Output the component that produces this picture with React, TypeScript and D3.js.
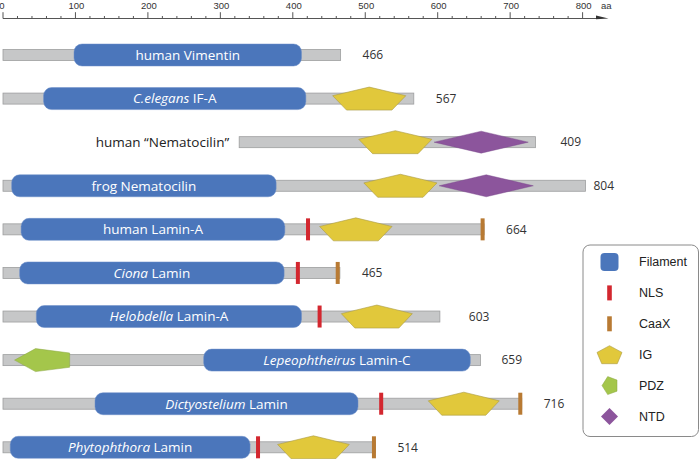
import React from "react";
import * as d3 from "d3";

// ---- data (amino-acid units) ----
const italicNames = ["", "C.elegans", "", "", "", "Ciona", "Helobdella", "Lepeophtheirus", "Dictyostelium", "Phytophthora"];
const plainNames = ["human Vimentin", " IF-A", "human \u201CNematocilin\u201D", "frog Nematocilin", "human Lamin-A", " Lamin", " Lamin-A", " Lamin-C", " Lamin", " Lamin"];
const lengths = [466, 567, 409, 804, 664, 465, 603, 659, 716, 514];
const starts = [0, 0, 326, 0, 0, 0, 0, 0, 0, 0];
const filament: ([number, number] | null)[] = [[98, 412], [56, 418], null, [12, 377], [25, 389], [23, 388], [46, 412], [277, 645], [127, 490], [10, 341]];
const nls: (number | null)[] = [null, null, null, null, 421, 407, 437, null, 522, 352];
const caax: (number | null)[] = [null, null, null, null, 662, 462, null, null, 714, 512];
const ig: ([number, number] | null)[] = [null, [455, 556], [491, 592], [498, 599], [437, 537], null, [467, 565], null, [587, 685], [379, 478]];
const pdz: ([number, number] | null)[] = [null, null, null, null, null, null, null, [16, 92], null, null];
const ntd: ([number, number] | null)[] = [null, null, [595, 725], [602, 732], null, null, null, null, null, null];
const axisTicks = [0, 100, 200, 300, 400, 500, 600, 700, 800];
const legendLabels = ["Filament", "NLS", "CaaX", "IG", "PDZ", "NTD"];

const BLUE = "#4b76bb";
const GREY = "#c6c7c8";
const YELLOW = "#e1c83b";
const PURPLE = "#8c559c";
const GREEN = "#a4c64b";
const RED = "#d3272f";
const BROWN = "#b87a33";

const labelGaps = [22, 22, 25, 8, 22, 22, 29, 21, 22, 22];

function pentagonUp(x0: number, x1: number, cy: number, h: number) {
  const w = x1 - x0;
  const top = cy - h / 2;
  return [
    [x0 + w / 2, top],
    [x1, top + 0.375 * h],
    [x0 + 0.81 * w, top + h],
    [x0 + 0.19 * w, top + h],
    [x0, top + 0.375 * h],
  ].map((p) => p.join(",")).join(" ");
}
function pentagonLeft(x0: number, x1: number, cy: number, h: number) {
  const w = x1 - x0;
  const top = cy - h / 2;
  return [
    [x0, cy],
    [x0 + 0.38 * w, top],
    [x1, top + 0.19 * h],
    [x1, top + 0.81 * h],
    [x0 + 0.38 * w, top + h],
  ].map((p) => p.join(",")).join(" ");
}
function diamond(x0: number, x1: number, cy: number, h: number) {
  const cx = (x0 + x1) / 2;
  return [[x0, cy], [cx, cy - h / 2], [x1, cy], [cx, cy + h / 2]].map((p) => p.join(",")).join(" ");
}

export default function App() {
  const x = d3.scaleLinear().domain([0, 800]).range([3, 582.6]);
  const rows = d3.range(lengths.length);
  const y = d3.scalePoint<number>().domain(rows).range([55, 447.3]);
  const minor = d3.range(0, 801, 20);
  const axisY = 18.5;
  const nameFont = "'Open Sans', sans-serif";
  const legendY = d3.scalePoint<number>().domain(d3.range(6)).range([262, 416.5]);

  return (
    <svg width={700} height={459} style={{ position: "absolute", left: 0, top: 0, background: "#fff" }}>
      {/* axis */}
      <g>
        <line x1={x(0)} x2={598} y1={axisY} y2={axisY} stroke="#555" strokeWidth={1} />
        <polygon points={`596,15.6 608.5,${axisY} 596,${axisY + 0.8}`} fill="#333" />
        {minor.map((t) => (
          <line key={t} x1={x(t)} x2={x(t)} y1={t % 100 === 0 ? 12.2 : 16} y2={axisY} stroke="#555" strokeWidth={1} />
        ))}
        {axisTicks.map((t) => (
          <text key={t} x={x(t) + (t === 0 ? -1 : 1)} y={9} fontSize={9.5} fontFamily="'Liberation Sans', Arial, sans-serif" fill="#333" textAnchor="middle">
            {t}
          </text>
        ))}
        <text x={601} y={8.5} fontSize={9.5} fontFamily="'Liberation Sans', Arial, sans-serif" fill="#333">aa</text>
      </g>

      {rows.map((i) => {
        const cy = y(i)!;
        const s = starts[i];
        const e = s + lengths[i];
        const f = filament[i];
        return (
          <g key={i}>
            <rect x={x(s)} y={cy - 5.5} width={x(e) - x(s)} height={11} fill={GREY} stroke="#9d9e9f" strokeWidth={0.8} />
            {f && (
              <rect x={x(f[0])} y={cy - 11} width={x(f[1]) - x(f[0])} height={22} rx={8} ry={8} fill={BLUE} stroke="#6d8fc8" strokeWidth={0.5} />
            )}
            {ig[i] && <polygon points={pentagonUp(x(ig[i]![0]), x(ig[i]![1]), cy, 23)} fill={YELLOW} stroke="#a99a45" strokeWidth={0.6} />}
            {ntd[i] && <polygon points={diamond(x(ntd[i]![0]), x(ntd[i]![1]), cy, 22)} fill={PURPLE} stroke="#7a4a8a" strokeWidth={0.4} />}
            {pdz[i] && <polygon points={pentagonLeft(x(pdz[i]![0]), x(pdz[i]![1]), cy, 23)} fill={GREEN} stroke="#8aa642" strokeWidth={0.5} />}
            {nls[i] != null && <rect x={x(nls[i]!) - 2} y={cy - 11} width={4} height={22} fill={RED} />}
            {caax[i] != null && <rect x={x(caax[i]!) - 2} y={cy - 11} width={4} height={22} fill={BROWN} />}
            {f ? (
              <text x={(x(f[0]) + x(f[1])) / 2} y={cy} dy="0.36em" textAnchor="middle" fontSize={13.5} fontFamily={nameFont} fill="#fff">
                {italicNames[i] && <tspan fontStyle="italic">{italicNames[i]}</tspan>}
                {plainNames[i]}
              </text>
            ) : (
              <text x={x(s) - 10} y={cy} dy="0.36em" textAnchor="end" fontSize={13.5} fontFamily={nameFont} fill="#222">
                {plainNames[i]}
              </text>
            )}
            <text x={x(e) + labelGaps[i]} y={cy} dy="0.36em" fontSize={12} fontFamily={nameFont} fill="#333">
              {lengths[i]}
            </text>
          </g>
        );
      })}

      {/* legend */}
      <g>
        <rect x={583} y={245} width={115.5} height={191.5} rx={7} ry={7} fill="#fff" stroke="#8a8a8a" strokeWidth={1} />
        {legendLabels.map((lab, k) => {
          const cy = legendY(k)!;
          const cx = 609.5;
          let icon: React.ReactNode = null;
          if (k === 0) icon = <rect x={cx - 9} y={cy - 9} width={18} height={18} rx={4} fill={BLUE} />;
          if (k === 1) icon = <rect x={cx - 2.3} y={cy - 7.5} width={4.6} height={15} fill={RED} />;
          if (k === 2) icon = <rect x={cx - 2.3} y={cy - 7.5} width={4.6} height={15} fill={BROWN} />;
          if (k === 3) icon = <polygon points={pentagonUp(cx - 12.5, cx + 12.5, cy, 18)} fill={YELLOW} stroke="#a99a45" strokeWidth={0.6} />;
          if (k === 4) icon = <polygon points={pentagonLeft(cx - 7.5, cx + 7.5, cy, 18)} fill={GREEN} stroke="#8aa642" strokeWidth={0.5} />;
          if (k === 5) icon = <polygon points={diamond(cx - 8.5, cx + 8.5, cy, 17)} fill={PURPLE} />;
          return (
            <g key={lab}>
              {icon}
              <text x={639} y={cy} dy="0.35em" fontSize={12.5} fontFamily="'Liberation Sans', Arial, sans-serif" fill="#222">
                {lab}
              </text>
            </g>
          );
        })}
      </g>
    </svg>
  );
}
